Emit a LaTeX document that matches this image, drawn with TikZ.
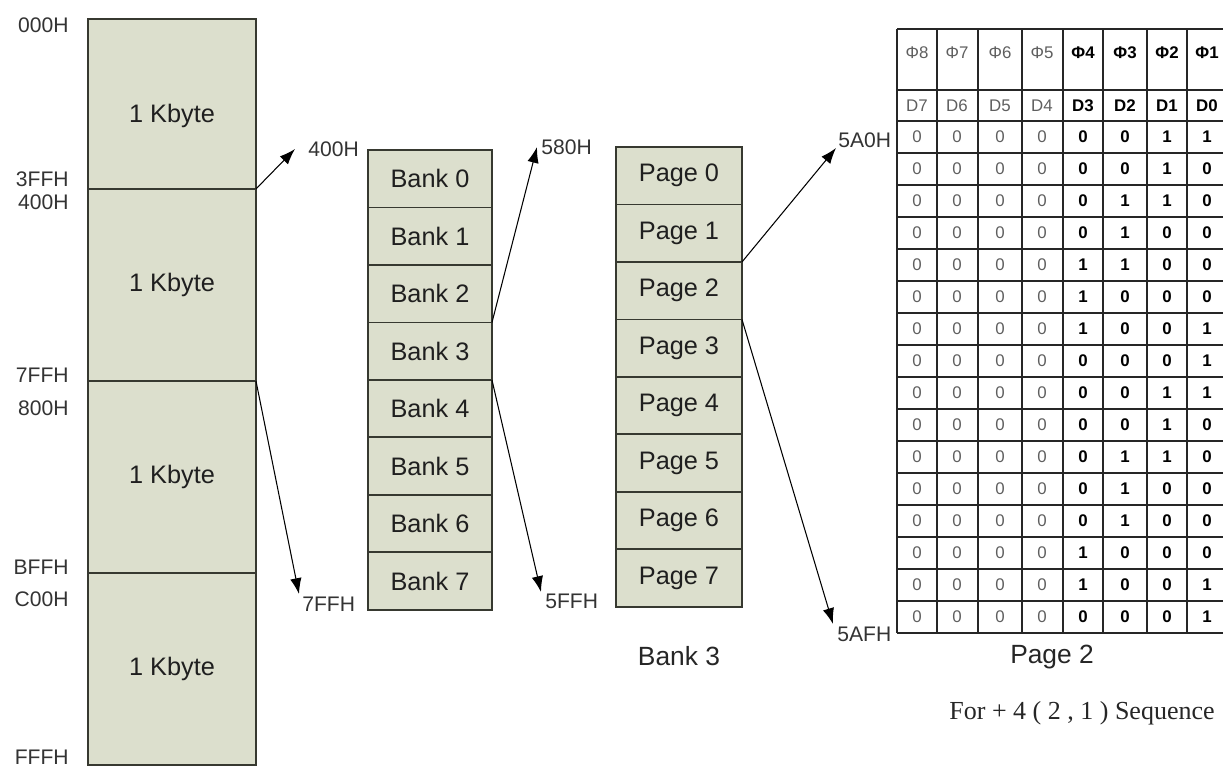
\documentclass[tikz,border=0pt]{standalone}
\usepackage{fontspec}
\setmainfont{Liberation Sans}
\newfontfamily\seqfont{Liberation Serif}
\usetikzlibrary{positioning,arrows.meta}
\definecolor{cellfill}{RGB}{220,223,205}
\definecolor{cellline}{RGB}{55,57,48}
\definecolor{bitgray}{RGB}{95,95,95}

\tikzset{
  memcell/.style={draw=cellline, fill=cellfill, line width=1.1pt, outer sep=0pt, inner sep=0pt,
    font=\fontsize{14.4}{16}\selectfont, text=black!88},
  kbcell/.style={memcell, minimum width=3.36cm, minimum height=3.84cm},
  bankcell/.style={memcell, minimum width=2.48cm, minimum height=1.15cm},
  pagecell/.style={memcell, minimum width=2.52cm, minimum height=1.15cm},
  addr/.style={inner sep=0pt, font=\fontsize{12}{14}\selectfont, text=black!80},
  caption/.style={inner sep=0pt, font=\fontsize{15}{17}\selectfont, text=black!85},
  bitlo/.style={inner sep=0pt, font=\fontsize{9.6}{11}\selectfont, text=bitgray},
  bithi/.style={inner sep=0pt, font=\fontsize{9.6}{11}\selectfont\bfseries, text=black},
  gridline/.style={draw=black!85, line width=0.8pt},
  maplink/.style={->, line width=0.6pt},
}

\begin{document}
\begin{tikzpicture}[x=0.02cm, y=-0.02cm, >={Latex[length=9pt,width=6.5pt]}]
    \useasboundingbox (0,0) rectangle (1223,767);

    % 4 Kbyte memory
    \node[kbcell, minimum height=3.4cm, text height=23.8pt, anchor=north west] (kb0) at (88,19) {1 Kbyte};
    \foreach \i [count=\j from 0] in {1,2,3}
        \node[kbcell, below=0pt of kb\j] (kb\i) {1 Kbyte};
    \node[addr, anchor=east] (a000) at (69,25) {000H};
    \node[addr, anchor=east] (a3FF) at (69,179) {3FFH};
    \node[addr, anchor=east] (a400) at (69,202) {400H};
    \node[addr, anchor=east] (a7FF) at (69,375) {7FFH};
    \node[addr, anchor=east] (a800) at (69,408) {800H};
    \node[addr, anchor=east] (aBFF) at (69,567) {BFFH};
    \node[addr, anchor=east] (aC00) at (69,599) {C00H};
    \node[addr, anchor=east] (aFFF) at (69,757) {FFFH};

    % banks
    \node[bankcell, anchor=north west] (bank0) at (368,150) {Bank 0};
    \foreach \i [count=\j from 0] in {1,...,7}
        \node[bankcell, below=0pt of bank\j] (bank\i) {Bank \i};

    % pages of bank 3
    \node[pagecell, anchor=north west] (page0) at (616,147) {Page 0};
    \foreach \i [count=\j from 0] in {1,...,7}
        \node[pagecell, below=0pt of page\j] (page\i) {Page \i};
    \node[caption, below=0.78cm of page7] (bank3cap) {Bank 3};

    % arrow ends and their addresses
    \coordinate (t400) at (295,149);
    \coordinate (t7FF) at (299,594);
    \coordinate (t580) at (537,147);
    \coordinate (t5FF) at (541,592);
    \coordinate (t5A0) at (836,148);
    \coordinate (t5AF) at (833,624);
    \node[addr, right=0.26cm of t400] (b400) {400H};
    \node[addr, below right=0.06cm and 0.06cm of t7FF] (b7FF) {7FFH};
    \node[addr, right=0.08cm of t580] (p580) {580H};
    \node[addr, below right=0.04cm and 0.08cm of t5FF] (p5FF) {5FFH};
    \node[addr, above right=0cm and 0.04cm of t5A0] (r5A0) {5A0H};
    \node[addr, below right=0.05cm and 0.08cm of t5AF] (r5AF) {5AFH};

    \draw[maplink] (kb1.north east) -- (t400);
    \draw[maplink] (kb1.south east) -- (t7FF);
    \draw[maplink] (bank3.north east) -- (t580);
    \draw[maplink] (bank3.south east) -- (t5FF);
    \draw[maplink] (page2.north east) -- (t5A0);
    \draw[maplink] (page2.south east) -- (t5AF);

    % page 2 table
    \foreach \x in {897,937,978,1022,1063,1103,1147,1187}
        \draw[gridline] (\x,29) -- (\x,633);
    \foreach \y in {29,90,121}
        \draw[gridline] (897,\y) -- (1223,\y);
    \foreach \k in {1,...,16}
        \draw[gridline] (897,{121+32*\k}) -- (1223,{121+32*\k});

    \foreach \n/\xc in {8/917,7/957,6/1000,5/1042}
        \node[bitlo] (phi\n) at (\xc,53) {Φ\n};
    \foreach \n/\xc in {4/1083,3/1125,2/1167,1/1207}
        \node[bithi] (phi\n) at (\xc,53) {Φ\n};
    \foreach \n/\xc in {7/917,6/957,5/1000,4/1042}
        \node[bitlo] (dh\n) at (\xc,105.5) {D\n};
    \foreach \n/\xc in {3/1083,2/1125,1/1167,0/1207}
        \node[bithi] (dh\n) at (\xc,105.5) {D\n};

    \foreach \a/\b/\c/\d [count=\r from 0] in
        {0/0/1/1, 0/0/1/0, 0/1/1/0, 0/1/0/0, 1/1/0/0, 1/0/0/0, 1/0/0/1, 0/0/0/1,
         0/0/1/1, 0/0/1/0, 0/1/1/0, 0/1/0/0, 0/1/0/0, 1/0/0/0, 1/0/0/1, 0/0/0/1} {
        \foreach \n/\xc in {7/917,6/957,5/1000,4/1042}
            \node[bitlo] (d\r-\n) at (\xc,{137+32*\r}) {0};
        \node[bithi] (d\r-3) at (1083,{137+32*\r}) {\a};
        \node[bithi] (d\r-2) at (1125,{137+32*\r}) {\b};
        \node[bithi] (d\r-1) at (1167,{137+32*\r}) {\c};
        \node[bithi] (d\r-0) at (1207,{137+32*\r}) {\d};
    }

    \node[caption] (page2cap) at (1052,657) {Page 2};
    \node[inner sep=0pt, font=\seqfont\fontsize{14.8}{17}\selectfont, text=black!85] (seq) at (1082,713)
        {For + 4 ( 2 , 1 ) Sequence};

\end{tikzpicture}
\end{document}
